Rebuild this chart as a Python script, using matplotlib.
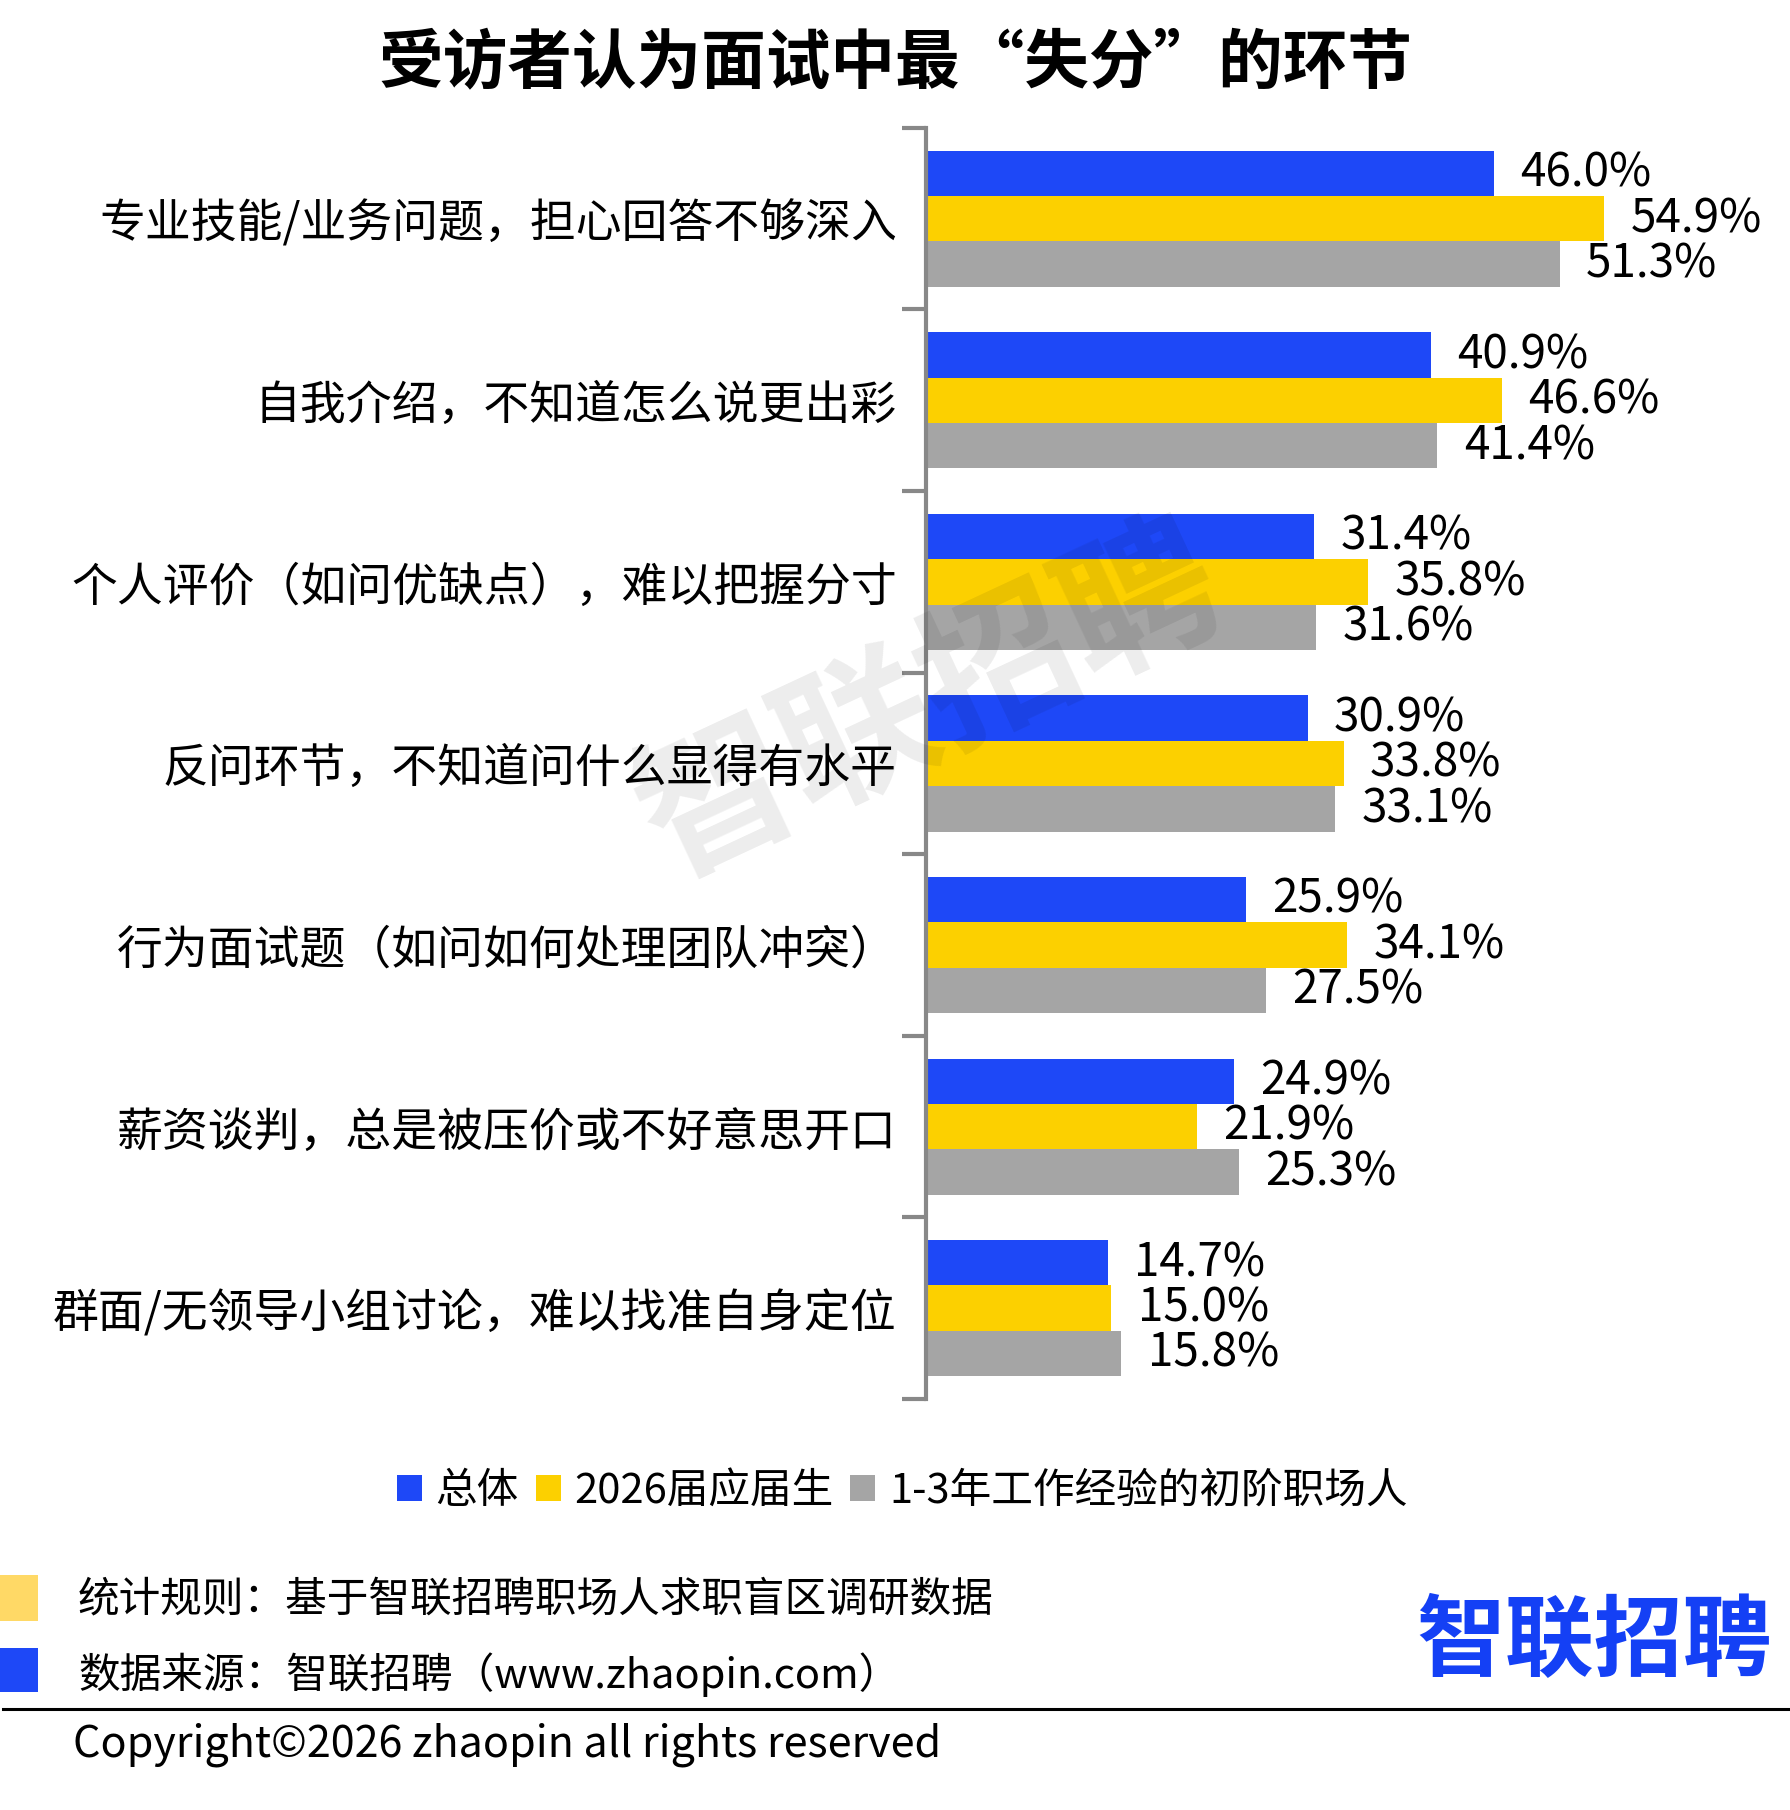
import numpy as np
import matplotlib
matplotlib.use("Agg")
import matplotlib.pyplot as plt
from matplotlib.patches import Patch, Rectangle

plt.rcParams["font.family"] = ["Noto Sans CJK SC", "DejaVu Sans"]

categories = [
    "专业技能/业务问题，担心回答不够深入",
    "自我介绍，不知道怎么说更出彩",
    "个人评价（如问优缺点），难以把握分寸",
    "反问环节，不知道问什么显得有水平",
    "行为面试题（如问如何处理团队冲突）",
    "薪资谈判，总是被压价或不好意思开口",
    "群面/无领导小组讨论，难以找准自身定位",
]
series_names = ["总体", "2026届应届生", "1-3年工作经验的初阶职场人"]
overall = [46.0, 40.9, 31.4, 30.9, 25.9, 24.9, 14.7]
grads_2026 = [54.9, 46.6, 35.8, 33.8, 34.1, 21.9, 15.0]
junior = [51.3, 41.4, 31.6, 33.1, 27.5, 25.3, 15.8]

colors = ["#1E48F7", "#FCD000", "#A5A5A5"]

W, H = 1790, 1810
fig = plt.figure(figsize=(17.901, 18.101), dpi=100)
x0 = 926
ax = fig.add_axes([x0 / W, 1 - 1399 / H, (1720 - x0) / W, (1399 - 128) / H])

n = len(categories)
centers = np.arange(n) + 0.5
bh = 0.25
for k, (vals, c) in enumerate(zip([overall, grads_2026, junior], colors)):
    ypos = centers + (k - 1) * bh
    ax.barh(ypos, vals, height=bh, color=c, zorder=2)
    for y, v in zip(ypos, vals):
        ax.annotate(f"{v:.1f}%", (v, y), xytext=(19, 0), textcoords="offset points",
                    va="center", ha="left", fontsize=33, color="black")

ax.set_ylim(n, 0)
ax.set_xlim(0, (1720 - x0) / 12.35)
ax.set_yticks(np.arange(n + 1))
ax.set_yticklabels([])
ax.set_yticks(centers, minor=True)
ax.set_yticklabels(categories, minor=True, fontsize=33)
ax.tick_params(axis="y", which="major", length=17, width=3, color="#888888")
ax.tick_params(axis="y", which="minor", length=0, pad=21)
ax.set_xticks([])
for s in ["top", "right", "bottom"]:
    ax.spines[s].set_visible(False)
ax.spines["left"].set_color("#888888")
ax.spines["left"].set_linewidth(3)
ax.spines["left"].set_zorder(3)

# watermark
fig.text(930 / W, 1 - 704 / H, "智联招聘", fontsize=112, fontweight="bold",
         color="black", alpha=0.075, rotation=25, ha="center", va="center", zorder=5)

fig.text(0.5, 1 - 65 / H, "受访者认为面试中最“失分”的环节", fontsize=46.5,
         fontweight="bold", ha="center", va="center")

handles = [Patch(facecolor=c, edgecolor="none") for c in colors]
fig.legend(handles, series_names, loc="center", bbox_to_anchor=(0.504, 1 - 1491 / H),
           ncol=3, frameon=False, fontsize=30, handlelength=0.6, handleheight=0.6,
           handletextpad=0.33, columnspacing=0.4)

# footer
fig.patches.append(Rectangle((0, 1 - 1621 / H), 38 / W, 46 / H, transform=fig.transFigure,
                             facecolor="#FFD966", edgecolor="none"))
fig.patches.append(Rectangle((0, 1 - 1692 / H), 38 / W, 44 / H, transform=fig.transFigure,
                             facecolor="#1E48F7", edgecolor="none"))
fig.text(78 / W, 1 - 1600 / H, "统计规则：基于智联招聘职场人求职盲区调研数据", fontsize=30, va="center")
fig.text(78 / W, 1 - 1675 / H, "数据来源：智联招聘（www.zhaopin.com）", fontsize=30, va="center")
fig.add_artist(plt.Line2D([3 / W, 1.0], [1 - 1709 / H] * 2, transform=fig.transFigure,
                          color="black", linewidth=2.2))
fig.text(73 / W, 1 - 1745 / H, "Copyright©2026 zhaopin all rights reserved", fontsize=31, va="center")
fig.text(1772 / W, 1 - 1643 / H, "智联招聘", fontsize=64, fontweight="bold",
         color="#1440F5", ha="right", va="center")

fig.savefig("out.png", dpi=100, facecolor="white")
